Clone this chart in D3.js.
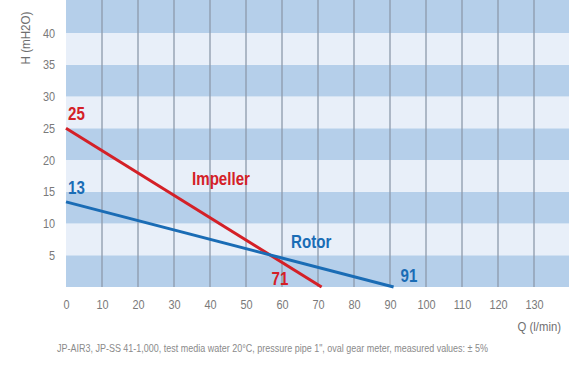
<!DOCTYPE html>
<html><head><meta charset="utf-8">
<script src="https://cdn.jsdelivr.net/npm/d3@7/dist/d3.min.js"></script>
<style>body{margin:0;background:#fff}svg{display:block}</style>
</head><body><svg id="c" width="569" height="369"></svg>
<script>
const xTicks = [0,10,20,30,40,50,60,70,80,90,100,110,120,130];
const yTicks = [5,10,15,20,25,30,35,40];
const bands = [0,5,10,15,20,25,30,35,40];
const impellerQ = [0,71];
const impellerH = [25,0];
const rotorQ = [0,91];
const rotorH = [13.4,0];
const endLabels = [
  {text:"25", q:0, h:25, color:"#d42027", dx:2, dy:-8},
  {text:"13", q:0, h:13.4, color:"#1a6cb5", dx:2, dy:-8},
  {text:"71", q:71, h:0, color:"#d42027", dx:-50, dy:-2},
  {text:"91", q:91, h:0, color:"#1a6cb5", dx:7, dy:-5}
];
const seriesLabels = [
  {text:"Impeller", q:35, h:16, color:"#d42027"},
  {text:"Rotor", q:62.5, h:6.1, color:"#1a6cb5"}
];

(function(){
const svg = d3.select("#c");
const x = d3.scaleLinear().domain([0,130]).range([66,534]);
const y = d3.scaleLinear().domain([0,40]).range([287,33]);
const plotRight = 569, plotTop = 0;
const font = "'Liberation Sans',Arial,sans-serif";
const sx = 0.84;

const g = svg.append("g");
bands.forEach((b,i)=>{
  const y0 = y(b), y1 = i===bands.length-1 ? plotTop : y(b+5);
  g.append("rect").attr("x",x(0)).attr("width",plotRight-x(0))
    .attr("y",y1).attr("height",y0-y1)
    .attr("fill", i%2===0 ? "#b5cfea" : "#e8eff9");
});
xTicks.filter(d=>d>0).forEach(d=>{
  g.append("line").attr("x1",x(d)).attr("x2",x(d)).attr("y1",plotTop).attr("y2",y(0))
   .attr("stroke","#8d9aab").attr("stroke-width",1.3);
});

const xAxis = d3.axisBottom(x).tickValues(xTicks).tickSize(0).tickPadding(0);
const xa = svg.append("g").attr("transform",`translate(0,${y(0)+13})`).call(xAxis);
xa.select(".domain").remove();
xa.selectAll("text").attr("fill","#7a7a7a").style("font-family",font).style("font-size","13px")
  .attr("dy","0.71em").attr("transform",`scale(${sx},1)`);

const yAxis = d3.axisLeft(y).tickValues(yTicks).tickSize(0).tickPadding(13);
const ya = svg.append("g").attr("transform",`translate(${x(0)},0)`).call(yAxis);
ya.select(".domain").remove();
ya.selectAll("text").attr("fill","#7a7a7a").style("font-family",font).style("font-size","13px")
  .attr("transform",`scale(${sx},1)`);

const line = d3.line().x(d=>x(d[0])).y(d=>y(d[1]));
svg.append("path").datum(impellerQ.map((q,i)=>[q,impellerH[i]]))
  .attr("d",line).attr("fill","none").attr("stroke","#d42027").attr("stroke-width",3);
svg.append("path").datum(rotorQ.map((q,i)=>[q,rotorH[i]]))
  .attr("d",line).attr("fill","none").attr("stroke","#1a6cb5").attr("stroke-width",3);

function label(tx, px, py, color, size, weight, anchor){
  return svg.append("text").attr("transform",`translate(${px},${py}) scale(${sx},1)`)
    .attr("text-anchor",anchor||"start").text(tx).attr("fill",color)
    .style("font-family",font).style("font-size",size+"px").style("font-weight",weight||"normal");
}
endLabels.forEach(l=> label(l.text, x(l.q)+l.dx, y(l.h)+l.dy, l.color, 18, "bold"));
seriesLabels.forEach(l=> label(l.text, x(l.q), y(l.h), l.color, 18, "bold"));

svg.append("text").attr("transform","translate(30,38) rotate(-90) scale(0.86,1)")
  .attr("text-anchor","middle").text("H (mH2O)")
  .attr("fill","#6f6f6f").style("font-family",font).style("font-size","13.5px");
label("Q (l/min)", 561, 331, "#6f6f6f", 13.5, "normal", "end");
svg.append("text").attr("x",57).attr("y",352)
  .text("JP-AIR3, JP-SS 41-1,000, test media water 20°C, pressure pipe 1\", oval gear meter, measured values: ± 5%")
  .attr("textLength",431).attr("lengthAdjust","spacingAndGlyphs")
  .attr("fill","#8a8a8a").style("font-family",font).style("font-size","10.5px");
})();
</script></body></html>
